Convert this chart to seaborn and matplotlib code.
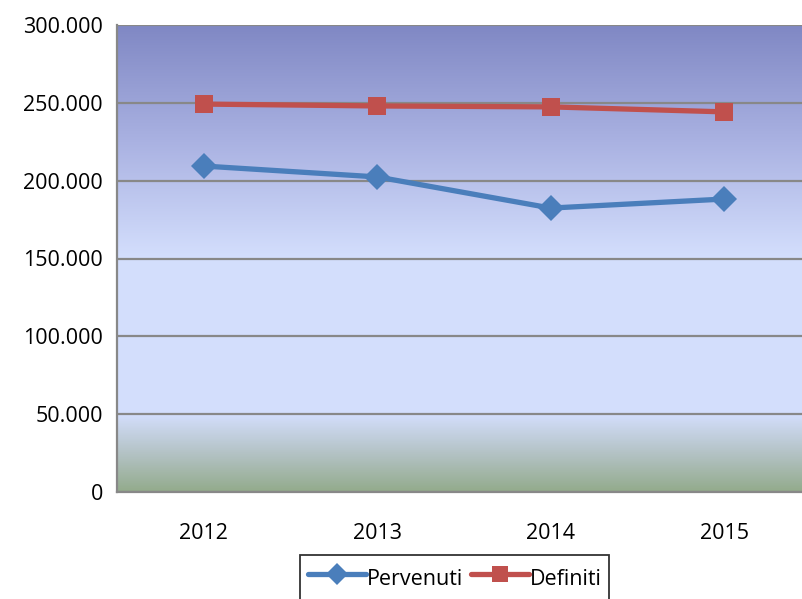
import numpy as np
import pandas as pd
import matplotlib
matplotlib.use("Agg")
import matplotlib.pyplot as plt
import seaborn as sns
from matplotlib.colors import LinearSegmentedColormap
from matplotlib.ticker import FuncFormatter, FixedLocator

anni = ["2012", "2013", "2014", "2015"]
pervenuti = [209400, 202400, 182400, 188200]
definiti = [249200, 248000, 247400, 244200]

df = pd.DataFrame({
    "anno": anni * 2,
    "valore": pervenuti + definiti,
    "serie": ["Pervenuti"] * 4 + ["Definiti"] * 4,
})

sns.set_style("white")
plt.rcParams["font.family"] = ["Open Sans", "DejaVu Sans"]
plt.rcParams["text.color"] = "black"

fig = plt.figure(figsize=(8.02, 5.99), dpi=100)
ax = fig.add_axes([117 / 802, 107 / 599, 694 / 802, 467 / 599])

# background gradient (bottom -> top)
cmap = LinearSegmentedColormap.from_list("bg", [
    (0.0, "#93ab8c"),
    (0.08, "#b3c2c4"),
    (0.165, "#d3defc"),
    (0.50, "#d4dffd"),
    (0.75, "#aab2e2"),
    (1.0, "#8088c4"),
])
grad = np.linspace(0, 1, 256).reshape(-1, 1)
ax.imshow(grad, cmap=cmap, origin="lower", aspect="auto",
          extent=(-0.5, 3.5, 0, 300000), zorder=0)

sns.lineplot(data=df, x="anno", y="valore", hue="serie", style="serie",
             palette={"Pervenuti": "#4a7ebb", "Definiti": "#c0504d"},
             markers={"Pervenuti": "D", "Definiti": "s"}, dashes=False,
             linewidth=3.8, markersize=13, markeredgewidth=0,
             ax=ax, legend=False, zorder=3)

ax.set_xlim(-0.5, 3.5)
ax.set_ylim(0, 300000)
ax.set_yticks(np.arange(0, 300001, 50000))
ax.yaxis.set_major_formatter(FuncFormatter(lambda v, p: f"{v:,.0f}".replace(",", ".")))
ax.grid(axis="y", color="#888888", linewidth=1.6, zorder=1)
ax.set_axisbelow(False)
for l in ax.get_ygridlines():
    l.set_zorder(1)

ax.set_xticks(range(4))
ax.set_xticklabels(anni)
ax.xaxis.set_minor_locator(FixedLocator([-0.5, 0.5, 1.5, 2.5, 3.5]))
ax.tick_params(axis="x", which="major", length=0, pad=22, labelsize=15.5, labelcolor="black")
ax.tick_params(axis="x", which="minor", length=7, width=1.6, color="#888888", direction="out")
ax.tick_params(axis="y", length=7, width=1.6, color="#888888", direction="out", pad=3,
               labelsize=15.5, labelcolor="black")
ax.set_xlabel("")
ax.set_ylabel("")

for s in ["left", "bottom"]:
    ax.spines[s].set_color("#888888")
    ax.spines[s].set_linewidth(1.6)
ax.spines["top"].set_visible(False)
ax.spines["right"].set_visible(False)

handles = [
    plt.Line2D([], [], color="#4a7ebb", marker="D", linewidth=3.8, markersize=11, markeredgewidth=0),
    plt.Line2D([], [], color="#c0504d", marker="s", linewidth=3.8, markersize=11, markeredgewidth=0),
]
leg = fig.legend(handles, ["Pervenuti", "Definiti"], loc="upper left",
                 bbox_to_anchor=(300 / 802, 1 - 555 / 599), ncol=2,
                 frameon=True, fancybox=False, edgecolor="black",
                 fontsize=15.5, handlelength=2.7, handletextpad=0.05,
                 columnspacing=0.35, borderpad=0.35, handleheight=1.9,
                 borderaxespad=0)
leg.get_frame().set_linewidth(1.3)

fig.savefig("out.png", dpi=100)
